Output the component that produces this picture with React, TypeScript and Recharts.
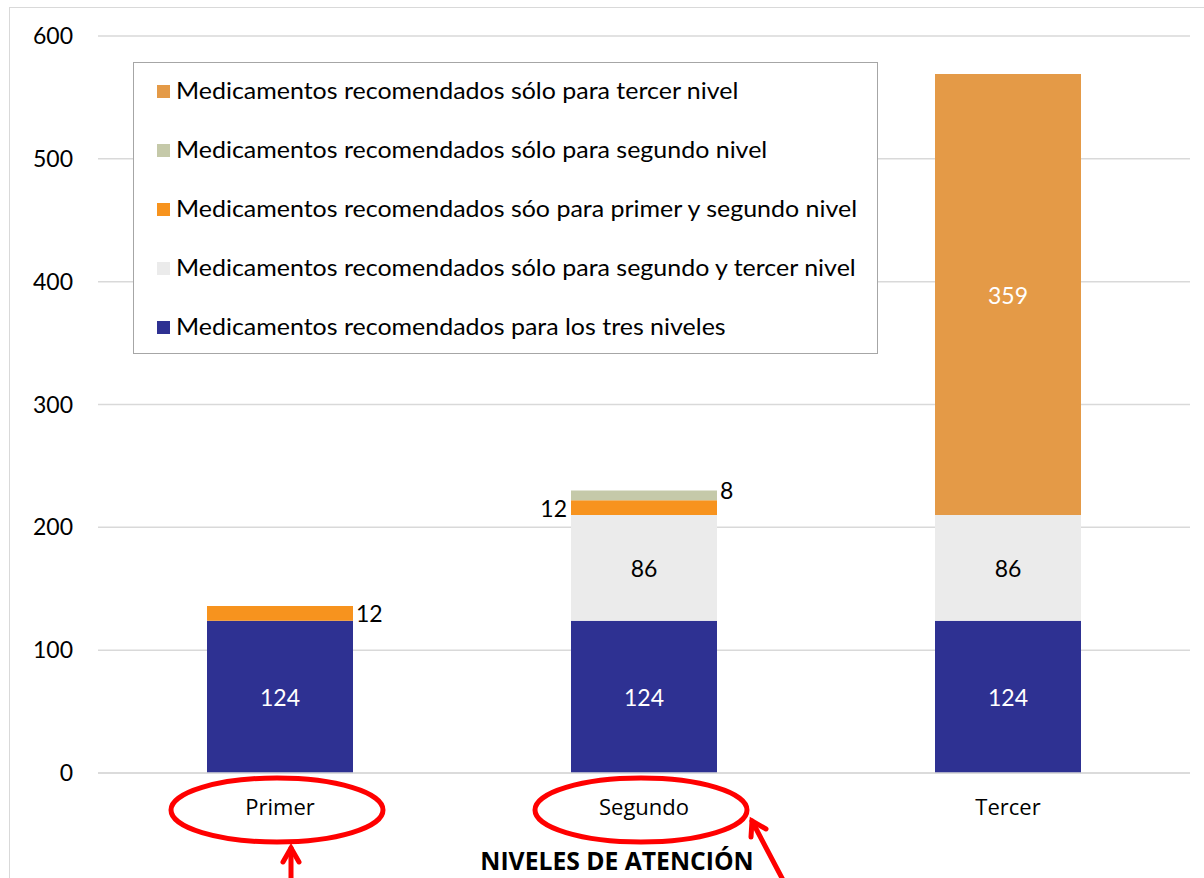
import React from "react";
import { Bar, BarChart, CartesianGrid, LabelList, XAxis, YAxis } from "recharts";

// Niveles de atención (categorías del eje X)
const NIVELES = ["Primer", "Segundo", "Tercer"];

// Valores por serie, en el orden de apilado (de abajo hacia arriba)
const TRES_NIVELES = [124, 124, 124];
const SEGUNDO_Y_TERCER = [0, 86, 86];
const PRIMER_Y_SEGUNDO = [12, 12, 0];
const SOLO_SEGUNDO = [0, 8, 0];
const SOLO_TERCER = [0, 0, 359];

const Y_TICKS = [0, 100, 200, 300, 400, 500, 600];

const SERIES = [
  { key: "tres", name: "Medicamentos recomendados para los tres niveles", color: "#2E3192", values: TRES_NIVELES },
  { key: "segTer", name: "Medicamentos recomendados sólo para segundo y tercer nivel", color: "#EBEBEB", values: SEGUNDO_Y_TERCER },
  { key: "priSeg", name: "Medicamentos recomendados sóo para primer y segundo nivel", color: "#F7931E", values: PRIMER_Y_SEGUNDO },
  { key: "seg", name: "Medicamentos recomendados sólo para segundo nivel", color: "#C5C9A9", values: SOLO_SEGUNDO },
  { key: "ter", name: "Medicamentos recomendados sólo para tercer nivel", color: "#E49A47", values: SOLO_TERCER },
];

const data = NIVELES.map((nivel, i) => {
  const row: Record<string, string | number> = { nivel };
  SERIES.forEach((s) => (row[s.key] = s.values[i]));
  return row;
});

const LABEL_FONT = "Lato, 'Noto Sans', sans-serif";
const CAT_FONT = "'Open Sans', 'Noto Sans', sans-serif";

// where each series puts its number: inside, or beside the bar (thin segments)
type Place = "center" | "right" | "left";
function makeLabel(fill: string, place: (index: number) => Place, dy = 0) {
  return (props: any) => {
    const { x, y, width, height, value, index } = props;
    if (!value) return null;
    const p = place(index);
    let tx = x + width / 2;
    let anchor: "middle" | "start" | "end" = "middle";
    if (p === "right") {
      tx = x + width + 3;
      anchor = "start";
    } else if (p === "left") {
      tx = x - 4;
      anchor = "end";
    }
    return (
      <text
        x={tx}
        y={y + height / 2 + dy}
        fill={p === "center" ? fill : "#000"}
        textAnchor={anchor}
        dominantBaseline="central"
        fontSize={23}
        fontFamily={LABEL_FONT}
      >
        {value}
      </text>
    );
  };
}

const labelFor: Record<string, (props: any) => React.ReactNode> = {
  tres: makeLabel("#fff", () => "center"),
  segTer: makeLabel("#000", () => "center"),
  priSeg: makeLabel("#000", (i) => (i === 0 ? "right" : "left")),
  seg: makeLabel("#000", () => "right", -5),
  ter: makeLabel("#fff", () => "center"),
};

function LegendBox() {
  const items = [...SERIES].reverse();
  return (
    <div
      style={{
        position: "absolute",
        left: 133,
        top: 62,
        width: 745,
        height: 292,
        border: "1.5px solid #a6a6a6",
        background: "#fff",
        boxSizing: "border-box",
      }}
    >
      <div style={{ position: "relative", top: -3 }}>
        {items.map((s) => (
          <div key={s.key} style={{ height: 59, display: "flex", alignItems: "center", paddingLeft: 23 }}>
            <span
              style={{
                width: 13,
                height: 13,
                background: s.color,
                display: "inline-block",
                marginRight: 6,
                position: "relative",
                top: 2,
              }}
            />
            <span
              style={{
                fontFamily: LABEL_FONT,
                fontSize: 24,
                color: "#000",
                whiteSpace: "nowrap",
                display: "inline-block",
                transform: "scaleX(1.04)",
                transformOrigin: "left center",
              }}
            >
              {s.name}
            </span>
          </div>
        ))}
      </div>
    </div>
  );
}

function Annotations() {
  const red = "#FF0000";
  return (
    <svg
      width={1204}
      height={878}
      style={{ position: "absolute", left: 0, top: 0, pointerEvents: "none" }}
    >
      <ellipse cx={277} cy={810} rx={106} ry={32} fill="none" stroke={red} strokeWidth={5} />
      <ellipse cx={641} cy={810} rx={106} ry={32} fill="none" stroke={red} strokeWidth={5} />
      <g stroke={red} strokeWidth={5} fill="none" strokeLinecap="round">
        <line x1={291} y1={880} x2={291} y2={848} />
        <polyline points="283,862 291,848 299,862" />
        <line x1={783} y1={880} x2={752} y2={821} />
        <polyline points="751,837 752,821 766,829" />
      </g>
    </svg>
  );
}

export default function App() {
  return (
    <div style={{ position: "relative", width: 1204, height: 878, overflow: "hidden", background: "#fff" }}>
      <style>{"body{margin:0}"}</style>
      <div
        style={{
          position: "absolute",
          left: 9,
          top: 7,
          width: 1210,
          height: 900,
          border: "1.5px solid #d9d9d9",
        }}
      />
      <BarChart
        width={1204}
        height={878}
        data={data}
        margin={{ top: 36, right: 14, bottom: 5, left: 0 }}
        barSize={146}
        style={{ position: "absolute", left: 0, top: 0 }}
      >
        <CartesianGrid vertical={false} stroke="#d9d9d9" strokeWidth={1.5} />
        <XAxis
          dataKey="nivel"
          height={100}
          axisLine={{ stroke: "#d9d9d9", strokeWidth: 1.5 }}
          tickLine={false}
          tickSize={0}
          tickMargin={26}
          tick={{ fill: "#000", fontSize: 22, fontFamily: CAT_FONT }}
          label={{
            value: "NIVELES DE ATENCIÓN",
            position: "insideBottom",
            offset: 3,
            dx: -27,
            fill: "#000",
            fontSize: 24.7,
            fontWeight: 700,
            fontFamily: CAT_FONT,
          }}
        />
        <YAxis
          width={98}
          domain={[0, 600]}
          ticks={Y_TICKS}
          axisLine={false}
          tickLine={false}
          tickSize={0}
          tickMargin={25}
          tick={{ fill: "#000", fontSize: 23, fontFamily: LABEL_FONT }}
        />
        {SERIES.map((s) => (
          <Bar key={s.key} dataKey={s.key} name={s.name} stackId="a" fill={s.color} isAnimationActive={false}>
            <LabelList dataKey={s.key} content={labelFor[s.key]} />
          </Bar>
        ))}
      </BarChart>
      <LegendBox />
      <Annotations />
    </div>
  );
}
